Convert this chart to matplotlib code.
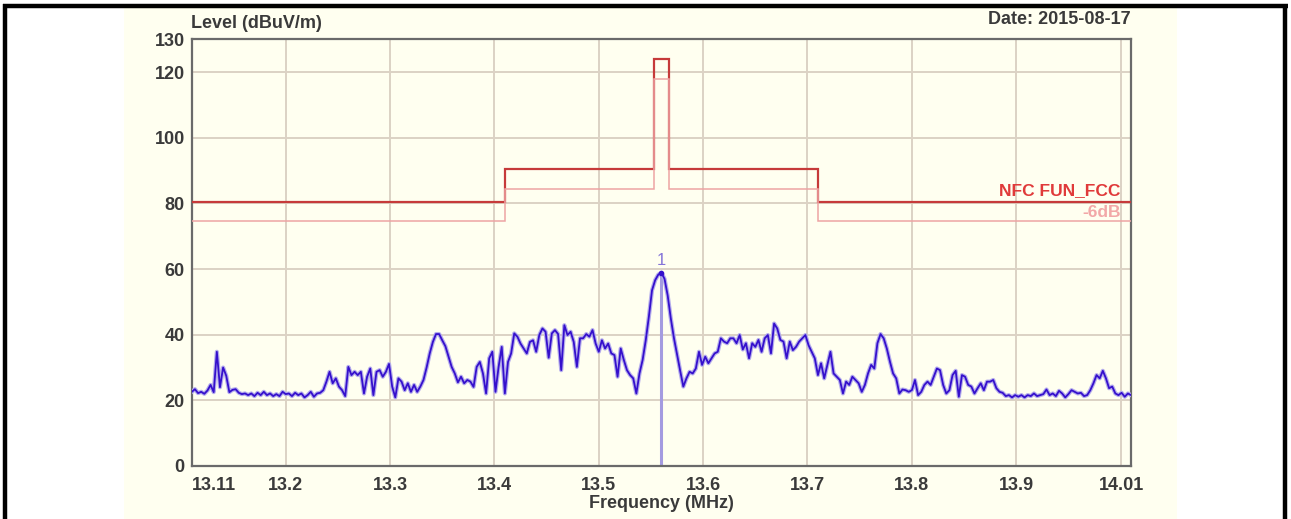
import numpy as np
import matplotlib
matplotlib.use("Agg")
import matplotlib.pyplot as plt
import matplotlib.transforms as mtransforms
from matplotlib.patches import Rectangle
from matplotlib.lines import Line2D

plt.rcParams['font.family'] = ['Liberation Sans', 'DejaVu Sans']

# sweep: 13.11 .. 14.01 MHz, 3 kHz steps
f_start = 13.11
f_step = 0.003

level = [
    22.6, 23.4, 22.2, 22.6, 22.0, 23.0, 24.7, 22.5, 34.8, 24.0,
    30.0, 27.5, 22.5, 23.2, 23.4, 22.3, 21.9, 22.1, 21.6, 22.1,
    21.3, 22.3, 21.6, 22.6, 21.6, 22.1, 21.3, 21.9, 21.3, 22.6,
    21.9, 22.1, 21.3, 22.3, 21.6, 22.1, 20.9, 21.6, 22.6, 21.1,
    22.1, 22.3, 23.1, 25.7, 28.7, 25.2, 26.7, 24.2, 23.1, 21.3,
    30.2, 27.7, 28.7, 27.7, 28.7, 22.1, 27.2, 29.7, 21.6, 28.7,
    29.2, 27.2, 28.7, 31.1, 24.2, 20.9, 26.7, 25.7, 23.1, 25.2,
    22.6, 24.7, 22.6, 24.2, 26.2, 30.0, 34.3, 37.8, 40.2, 40.2,
    38.3, 36.5, 33.3, 30.2, 28.2, 25.5, 27.2, 25.2, 26.2, 25.7,
    24.1, 30.2, 31.7, 28.2, 22.1, 32.8, 34.8, 22.6, 30.2, 36.3,
    22.1, 31.7, 34.3, 40.4, 39.4, 37.3, 35.8, 34.3, 37.8, 38.3,
    34.8, 39.9, 41.9, 40.9, 33.0, 40.4, 41.4, 40.2, 29.2, 42.9,
    39.9, 40.9, 37.8, 30.2, 38.9, 38.9, 40.2, 39.4, 41.4, 37.3,
    34.8, 38.3, 35.8, 37.3, 34.3, 33.8, 27.2, 35.8, 32.3, 29.2,
    27.7, 26.7, 22.1, 28.2, 32.3, 38.3, 45.5, 53.5, 56.6, 58.3,
    58.9, 57.0, 52.0, 45.0, 39.0, 34.0, 29.0, 24.2, 26.7, 28.7,
    28.2, 29.7, 34.8, 30.8, 33.3, 31.3, 32.8, 34.3, 34.8, 38.9,
    37.9, 37.4, 38.9, 38.9, 37.4, 39.9, 35.5, 37.4, 32.8, 37.4,
    36.3, 38.4, 34.8, 38.9, 39.9, 34.3, 43.4, 41.9, 38.4, 37.9,
    32.8, 37.9, 35.3, 36.3, 37.9, 38.9, 39.9, 36.8, 34.8, 32.8,
    27.7, 31.3, 26.7, 30.8, 34.8, 28.2, 27.2, 26.2, 22.1, 25.7,
    24.7, 27.2, 26.2, 25.2, 22.6, 24.7, 28.2, 30.8, 29.7, 37.4,
    40.2, 38.9, 35.8, 31.8, 28.2, 26.7, 22.1, 23.3, 23.1, 22.6,
    23.1, 26.2, 21.6, 22.6, 24.7, 25.7, 24.7, 27.2, 29.7, 29.2,
    24.7, 22.1, 23.1, 27.7, 29.0, 21.1, 27.7, 27.2, 24.7, 24.2,
    22.1, 23.7, 25.2, 23.1, 25.7, 25.7, 26.2, 23.7, 22.6, 22.3,
    21.3, 21.6, 20.9, 21.6, 21.1, 21.6, 20.9, 21.6, 21.3, 22.1,
    21.3, 21.6, 21.9, 23.3, 21.6, 22.1, 21.3, 22.9, 22.1, 20.9,
    21.9, 23.1, 22.6, 22.1, 22.3, 21.3, 21.6, 23.1, 25.2, 27.7,
    26.7, 29.0, 26.7, 23.7, 24.2, 22.1, 21.6, 22.3, 21.1, 22.1,
    21.6,
]
freq = f_start + f_step * np.arange(len(level))

# FCC 15.225 limit (3 m) and the -6 dB margin line
limit_edges = [13.11, 13.41, 13.553, 13.567, 13.71, 14.01]
limit_levels = [80.5, 90.5, 124.0, 90.5, 80.5]
margin_db = 6.0

marker_freq = 13.56
marker_level = 58.9

xticks = [13.11, 13.2, 13.3, 13.4, 13.5, 13.6, 13.7, 13.8, 13.9, 14.01]
xgrid = [13.2, 13.3, 13.4, 13.5, 13.6, 13.7, 13.8, 13.9, 14.0]
yticks = [0, 20, 40, 60, 80, 100, 120, 130]
ygrid = [20, 40, 60, 80, 100, 120]

W, H = 1291, 519
fig = plt.figure(figsize=(W / 100, H / 100), dpi=100)
fig.patch.set_facecolor('white')

cream = '#fffff0'
fig.add_artist(Rectangle((124 / W, 0), (1177 - 124) / W, (H - 8) / H,
                         transform=fig.transFigure, facecolor=cream,
                         edgecolor='none', zorder=0))
# black frame
for xs, ys in [((3 / W, 1288 / W), (1 - 6 / H, 1 - 6 / H)),
               ((5 / W, 5 / W), (0, 1 - 4 / H)),
               ((1285 / W, 1285 / W), (0, 1 - 4 / H))]:
    fig.add_artist(Line2D(xs, ys, transform=fig.transFigure, color='black',
                          lw=3.2, solid_capstyle='butt', zorder=1))

ax = fig.add_axes([191.8 / W, (H - 466) / H, (1131 - 191.8) / W, (466 - 39.3) / H])
ax.set_facecolor(cream)
ax.set_xlim(13.11, 14.01)
ax.set_ylim(0, 130)

gridc = '#dcd2c4'
for x in xgrid:
    ax.axvline(x, color=gridc, lw=1.4, zorder=1)
for y in ygrid:
    ax.axhline(y, color=gridc, lw=1.4, zorder=1)

ax.stairs(limit_levels, limit_edges, baseline=None, color='#c63a3a', lw=1.6, zorder=3)
ax.stairs([v - margin_db for v in limit_levels], limit_edges, baseline=None,
          color='#eea4a4', lw=1.1, zorder=3)
ax.text(14.0, 80.5 + 1.2, 'NFC FUN_FCC', color='#e03a3a', fontsize=12.5,
        fontweight='bold', ha='right', va='bottom', zorder=4)
ax.text(14.0, 80.5 - 1.0, '-6dB', color='#f2a8a8', fontsize=12.5,
        fontweight='bold', ha='right', va='top', zorder=4)

# marker line
ax.vlines(marker_freq, 0, marker_level, color='#a49be0', lw=2.2, zorder=2)

ax.plot(freq, level, color='#b4acec', lw=3.0, zorder=4)
ax.plot(freq, level, color='#3510cc', lw=1.3, zorder=5)
ax.plot([marker_freq], [marker_level], 'o', ms=3, color='#3510cc', zorder=6)
ax.text(marker_freq, marker_level + 1.5, '1', color='#8474d8', fontsize=12,
        ha='center', va='bottom', zorder=6)

for s in ax.spines.values():
    s.set_color('#6a6a6a')
    s.set_linewidth(1.6)

tcol = '#3a3a3a'
ax.set_xticks(xticks)
ax.set_xticklabels([f'{t:g}' for t in xticks])
ax.set_yticks(yticks)
ax.set_yticklabels([str(t) for t in yticks])
ax.tick_params(length=0, labelsize=13, labelcolor=tcol, pad=5)
ax.tick_params(axis='x', pad=8)
for lab in ax.get_xticklabels() + ax.get_yticklabels():
    lab.set_fontweight('bold')
xl = ax.get_xticklabels()
xl[0].set_horizontalalignment('left')
xl[-1].set_transform(xl[-1].get_transform() +
                     mtransforms.ScaledTranslation(-9 / 100, 0, fig.dpi_scale_trans))

fig.text(191 / W, 1 - 23 / H, 'Level (dBuV/m)', fontsize=13, fontweight='bold',
         color=tcol, ha='left', va='center')
fig.text(1131 / W, 1 - 19 / H, 'Date: 2015-08-17', fontsize=13, fontweight='bold',
         color=tcol, ha='right', va='center')
fig.text(661 / W, 1 - 503 / H, 'Frequency (MHz)', fontsize=13, fontweight='bold',
         color=tcol, ha='center', va='center')

fig.savefig('out.png', dpi=100, facecolor='white')
